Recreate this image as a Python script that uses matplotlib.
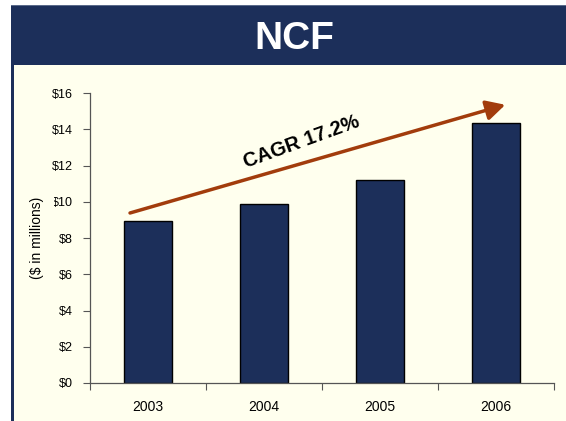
import matplotlib
matplotlib.use("Agg")
import matplotlib.pyplot as plt
from matplotlib.patches import Rectangle

years = ["2003", "2004", "2005", "2006"]
ncf = [8.95, 9.9, 11.2, 14.35]
ytick_vals = [0, 2, 4, 6, 8, 10, 12, 14, 16]
ytick_labels = ["$0", "$2", "$4", "$6", "$8", "$10", "$12", "$14", "$16"]
title = "NCF"
ylabel = "($ in millions)"
cagr_label = "CAGR 17.2%"
arrow_start = (-0.155, 9.38)
arrow_end = (3.08, 15.35)

NAVY = "#1C2F5A"
CREAM = "#FFFFEE"
RUST = "#A23C0C"

plt.rcParams["font.family"] = ["Liberation Sans", "DejaVu Sans"]

W, H = 566, 421
fig = plt.figure(figsize=(W / 100, H / 100), dpi=100)
fig.patch.set_facecolor("white")

def fx(px):
    return px / W

def fy(py):
    return 1 - py / H

# cream panel
fig.add_artist(Rectangle((fx(14), 0), fx(W - 14), fy(65), transform=fig.transFigure,
                         facecolor=CREAM, edgecolor="none", zorder=0))
# left border
fig.add_artist(Rectangle((fx(11), 0), fx(3), fy(65), transform=fig.transFigure,
                         facecolor=NAVY, edgecolor="none", zorder=0))
# title bar
fig.add_artist(Rectangle((fx(11), fy(65)), fx(W - 11), (65 - 5) / H, transform=fig.transFigure,
                         facecolor=NAVY, edgecolor="none", zorder=0))
fig.add_artist(Rectangle((fx(11), fy(6)), fx(W - 11), 1.2 / H, transform=fig.transFigure,
                         facecolor="#5A6A8A", edgecolor="none", zorder=1))
fig.text(fx(294), fy(39), title, color="white", fontsize=28, fontweight="bold",
         ha="center", va="center")

ax = fig.add_axes([fx(90), fy(383), fx(554 - 90), (383 - 93) / H])
ax.set_facecolor("none")
x = list(range(len(years)))
ax.bar(x, ncf, width=0.41, color=NAVY, edgecolor="black", linewidth=1.0, zorder=2)

ax.set_xlim(-0.5, len(years) - 0.5)
ax.set_ylim(0, 16)
ax.set_yticks(ytick_vals)
ax.set_yticklabels(ytick_labels, fontsize=9)
ax.set_xticks([i + 0.5 for i in range(-1, len(years))])
ax.set_xticklabels([])
ax.set_xticks(x, minor=True)
ax.set_xticklabels(years, minor=True, fontsize=10)
ax.tick_params(axis="x", which="major", length=5, direction="out", color="#555555")
ax.tick_params(axis="x", which="minor", length=0, pad=12)
ax.tick_params(axis="y", length=5, direction="out", color="#555555", pad=7.5)
for s in ["top", "right"]:
    ax.spines[s].set_visible(False)
for s in ["left", "bottom"]:
    ax.spines[s].set_color("#555555")
    ax.spines[s].set_linewidth(0.9)

ax.annotate("", xy=arrow_end, xytext=arrow_start,
            arrowprops=dict(arrowstyle="-|>,head_length=0.95,head_width=0.5",
                            color=RUST, lw=2.5, mutation_scale=12, shrinkA=0, shrinkB=0),
            zorder=3)
ax.text(1.32, 13.3, cagr_label, fontsize=14.5, fontweight="bold",
        rotation=20, ha="center", va="center", rotation_mode="anchor", zorder=4)

fig.text(fx(37), fy(238), ylabel, fontsize=10, rotation=90, ha="center", va="center",
         bbox=dict(facecolor=CREAM, edgecolor="none", pad=7.5), zorder=5)

fig.savefig("out.png", dpi=100)
